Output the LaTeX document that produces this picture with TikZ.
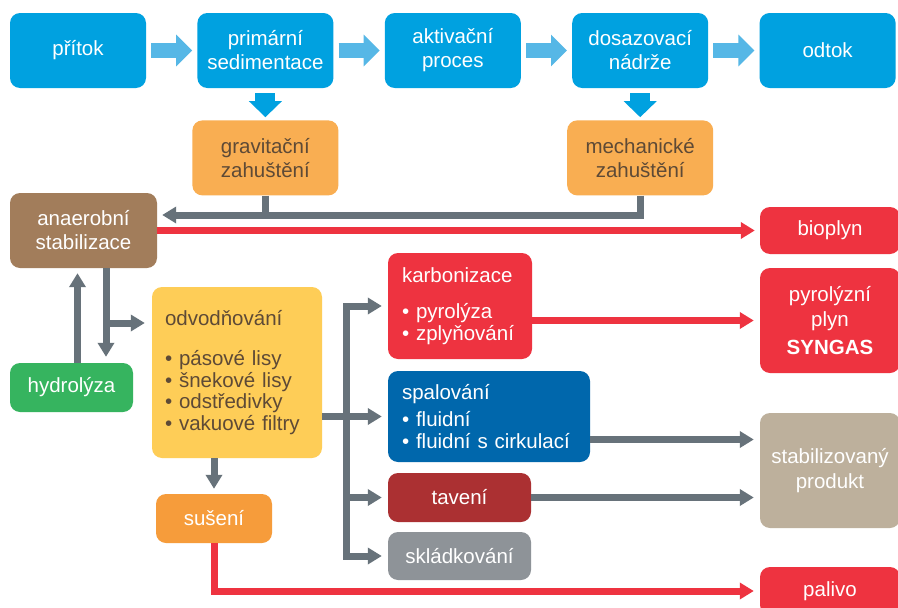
\documentclass[tikz,border=0pt]{standalone}
\usepackage{fontspec}
\setmainfont{Liberation Sans}
\usetikzlibrary{arrows.meta,positioning}
\definecolor{topblue}{HTML}{00A1E0}
\definecolor{arrowblue}{HTML}{56B7E6}
\definecolor{zahorange}{HTML}{F9AE52}
\definecolor{anaerbrown}{HTML}{A27D5B}
\definecolor{connred}{HTML}{EE3340}
\definecolor{hydrogreen}{HTML}{36B45F}
\definecolor{odvyellow}{HTML}{FECD57}
\definecolor{spalblue}{HTML}{0067AC}
\definecolor{tavred}{HTML}{AB3032}
\definecolor{skladgray}{HTML}{8E9398}
\definecolor{prodtan}{HTML}{BDB09C}
\definecolor{susorange}{HTML}{F69C3B}
\definecolor{conngray}{HTML}{67727A}
\definecolor{textbrown}{HTML}{5E4A36}
\begin{document}
\begin{tikzpicture}[x=1pt,y=-1pt,node distance=51pt,box/.style={rectangle, rounded corners=10pt, inner sep=0pt, align=center, text=white, font=\fontsize{20.5}{24}\selectfont},topbox/.style={box, fill=topblue, minimum width=136pt, minimum height=75pt},zahbox/.style={box, fill=zahorange, text=textbrown, minimum width=146pt, minimum height=75pt},endbox/.style={box, fill=connred, minimum width=140pt},listbox/.style={box, align=left, inner xsep=14pt, font=\fontsize{20.5}{21.5}\selectfont},bigarrow/.style={draw=arrowblue, line width=15pt, -{Triangle[width=31pt,length=16pt]}, shorten <=5pt, shorten >=5pt},downarrow/.style={draw=topblue, line width=20pt, -{Triangle[width=32pt,length=16pt]}, shorten <=5pt, shorten >=3pt},gline/.style={draw=conngray, line width=7pt},conn/.style={gline, -{Triangle[width=16pt,length=14pt]}, shorten >=6pt},redconn/.style={conn, draw=connred}]
                    \fill[white] (0,0) rectangle (898,608);
                    \useasboundingbox (0,0) rectangle (898,608);
                    \clip (0,0) rectangle (898,608);
                    \node[topbox] (pritok) at (78,50.5) {přítok};
                    \node[topbox, right=of pritok] (primarni) {primární\\sedimentace};
                    \node[topbox, right=of primarni] (aktivacni) {aktivační\\proces};
                    \node[topbox, right=of aktivacni] (dosazovaci) {dosazovací\\nádrže};
                    \node[topbox, right=of dosazovaci] (odtok) {odtok};
                    \node[zahbox, below=32pt of primarni] (grav) {gravitační\\zahuštění};
                    \node[zahbox, below=32pt of dosazovaci] (mech) {mechanické\\zahuštění};
                    \node[box, fill=anaerbrown, minimum width=147pt, minimum height=75pt] (anaer) at (83.5,230.5) {anaerobní\\stabilizace};
                    \node[box, fill=hydrogreen, minimum width=123pt, minimum height=49pt] (hydro) at (71.5,387.5) {hydrolýza};
                    \node[listbox, fill=odvyellow, text=textbrown, inner xsep=13pt, text width=144pt, minimum height=171pt] (odv) at (237,372.5) {odvodňování\\[18.5pt]• pásové lisy\\• šnekové lisy\\• odstředivky\\• vakuové filtry};
                    \node[box, fill=susorange, minimum width=116pt, minimum height=49pt] (susen) at (214,518.5) {sušení};
                    \node[listbox, fill=connred, text width=116pt, minimum height=106pt] (karb) at (460,306) {karbonizace\\[14.5pt]• pyrolýza\\• zplyňování};
                    \node[listbox, fill=spalblue, text width=174pt, minimum height=91pt] (spal) at (489,416.5) {spalování\\[5.5pt]• fluidní\\• fluidní s cirkulací};
                    \node[box, fill=tavred, minimum width=143pt, minimum height=49pt] (tav) at (459.5,497.5) {tavení};
                    \node[box, fill=skladgray, minimum width=143pt, minimum height=48pt] (sklad) at (459.5,556) {skládkování};
                    \node[endbox, minimum height=47pt] (bioplyn) at (830,230.5) {bioplyn};
                    \node[endbox, minimum height=105pt, font=\fontsize{20.5}{25}\selectfont] (pyro) at (830,320.5) {pyrolýzní\\plyn\\[3pt]\textbf{SYNGAS}};
                    \node[box, fill=prodtan, minimum width=140pt, minimum height=115pt, font=\fontsize{20.5}{25}\selectfont] (stab) at (830,470.5) {stabilizovaný\\produkt};
                    \node[endbox, minimum height=48pt] (palivo) at (830,591) {palivo};
                    \coordinate (split) at (106,323);
                    \coordinate (hub) at (346,417);
                    \coordinate (spalout) at ([yshift=-23pt]spal.east);
                    \draw[bigarrow] (pritok) -- (primarni);
                    \draw[bigarrow] (primarni) -- (aktivacni);
                    \draw[bigarrow] (aktivacni) -- (dosazovaci);
                    \draw[bigarrow] (dosazovaci) -- (odtok);
                    \draw[downarrow] (primarni) -- (grav);
                    \draw[downarrow] (dosazovaci) -- (mech);
                    \draw[gline] (grav.south) -- ++(0,21);
                    \draw[conn, shorten >=5pt] (mech.south) |- ([yshift=15.5pt]anaer.east);
                    \draw[redconn, shorten >=5pt] (anaer) -- (bioplyn);
                    \draw[conn, shorten >=5pt] ([xshift=6pt]hydro.north) -- ([xshift=-6pt]anaer.south);
                    \draw[conn] ([xshift=22.5pt]anaer.south) -- ([xshift=34.5pt]hydro.north);
                    \draw[conn, shorten >=7pt] (split) -- (split -| odv.west);
                    \draw[conn] (odv.east |- spal.west) -- (spal.west);
                    \draw[conn] (hub |- tav.west) -- (hub |- karb.west) -- (karb.west);
                    \draw[conn] (hub |- tav.west) -- (hub |- sklad.west) -- (sklad.west);
                    \draw[conn] (hub |- tav.west) -- (tav.west);
                    \draw[conn, shorten >=5pt] (susen.north |- odv.south) -- (susen.north);
                    \draw[redconn] (susen.south) |- (palivo.west);
                    \draw[redconn] (karb.east |- pyro.west) -- (pyro.west);
                    \draw[conn] (spalout) -- (spalout -| stab.west);
                    \draw[conn] (tav.east) -- (tav.east -| stab.west);
                \end{tikzpicture}
\end{document}
